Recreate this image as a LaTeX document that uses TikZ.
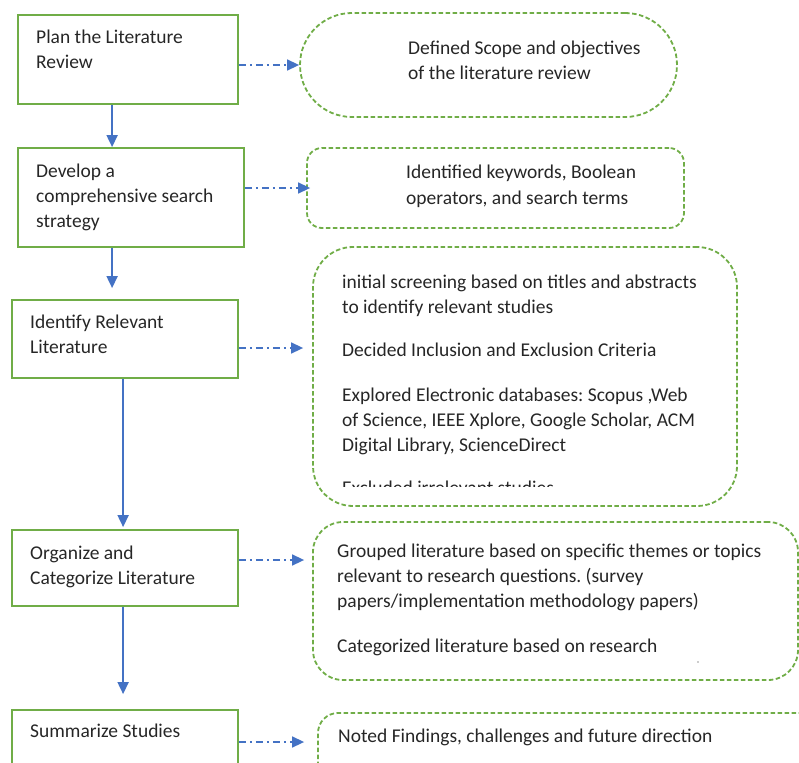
\documentclass[tikz,border=0pt]{standalone}
\usepackage{fontspec}
\setmainfont{Carlito}
\usepackage{xcolor}
\usepackage{tikz}
\usetikzlibrary{calc,arrows.meta,positioning}
\definecolor{boxGreen}{RGB}{112,173,71}
\definecolor{flowBlue}{RGB}{68,114,196}
\definecolor{txtGray}{RGB}{38,38,38}
\tikzset{
  stepbox/.style={draw=boxGreen, line width=1.8pt, inner sep=0pt, minimum width=226pt},
  outbox/.style={draw=boxGreen, line width=1.8pt, dash pattern=on 4.5pt off 2.5pt, inner sep=0pt},
  lbl/.style={anchor=base west, align=left, inner sep=0pt, text=txtGray, font=\fontsize{19.5}{25}\selectfont\frenchspacing},
  flow/.style={flowBlue, line width=1.8pt, -{Triangle[length=12pt,width=11pt]}},
  link/.style={flow, line width=1.5pt, dash pattern=on 7pt off 4pt on 2pt off 4pt},
}

\begin{document}
\begin{tikzpicture}[x=1pt,y=-1pt]
\clip (0,0) rectangle (799,762);
% steps on the left
\node[stepbox, minimum width=220pt, minimum height=89pt] (plan) at (128,59.5) {};
\node[stepbox, minimum height=99pt] (search) at (131,197.5) {};
\node[stepbox, minimum height=78pt] (identify) at (125,339) {};
\node[stepbox, minimum height=76pt] (organize) at (125,568) {};
\node[stepbox, minimum height=80pt] (summ) at (125,750) {};
% (base of a node with several lines = last line)
\node[lbl] (planT) at (36,69) {Plan the Literature\\Review};
\node[lbl] (searchT) at (36,227) {Develop a\\comprehensive search\\strategy};
\node[lbl] (identifyT) at (30,353) {Identify Relevant\\Literature};
\node[lbl] (organizeT) at (30,584) {Organize and\\Categorize Literature};
\node[lbl] (summT) at (30,737) {Summarize Studies};
% outcomes on the right
\node[outbox, rounded corners=52pt, minimum width=377pt, minimum height=104pt] (scope) at (488.5,65) {};
\node[outbox, rounded corners=15pt, minimum width=377pt, minimum height=80pt] (terms) at (495.5,188) {};
\node[outbox, rounded corners=40pt, minimum width=424pt, minimum height=259pt] (screen) at (525,376.5) {};
\node[outbox, rounded corners=30pt, minimum width=485pt, minimum height=158pt] (group) at (555.5,601) {};
\node[outbox, rounded corners=20pt, minimum width=512pt, minimum height=86pt] (notes) at (574,756) {};
\node[lbl] (scopeT) at (408,80) {Defined Scope and objectives\\of the literature review};
\node[lbl] (termsT) at (406,204) {Identified keywords, Boolean\\operators, and search terms};
\begin{scope}
\clip (313,247) rectangle (737,486);
\node[lbl] (screenT) at (342,494) {initial screening based on titles and abstracts\\to identify relevant studies\\[18pt]Decided Inclusion and Exclusion Criteria\\[20pt]Explored Electronic databases: Scopus ,Web\\of Science, IEEE Xplore, Google Scholar, ACM\\Digital Library, ScienceDirect\\[18pt]Excluded irrelevant studies};
\end{scope}
\node[lbl] (groupT) at (337,652) {Grouped literature based on specific themes or topics\\relevant to research questions. (survey\\papers/implementation methodology papers)\\[20pt]Categorized literature based on research};
\fill[txtGray] (698,662) circle (0.7pt);
\node[lbl] (notesT) at (338,742) {Noted Findings, challenges and future direction};
% main flow
\coordinate (v1) at ([xshift=95pt]plan.south west);
\coordinate (v2) at ([xshift=95pt]search.south west);
\coordinate (v3) at ([xshift=112pt]identify.south west);
\coordinate (v4) at ([xshift=112pt]organize.south west);
\draw[flow] (v1) -- (v1 |- search.north);
\draw[flow, shorten >=11pt] (v2) -- (v2 |- identify.north);
\draw[flow, shorten >=2pt] (v3) -- (v3 |- organize.north);
\draw[flow, shorten >=15pt] (v4) -- (v4 |- summ.north);
% links to outcomes
\coordinate (h3) at ([yshift=-9pt]identify.east);
\coordinate (h4) at ([yshift=8pt]organize.east);
\coordinate (h5) at ([yshift=8pt]summ.east);
\draw[link] (scope.west -| plan.east) -- (scope.west);
\draw[link, shorten >=-4pt] (terms.west -| search.east) -- (terms.west);
\draw[link, shorten >=9pt] (h3) -- (h3 -| screen.west);
\draw[link, shorten >=8pt] (h4) -- (h4 -| group.west);
\draw[link, shorten >=13pt] (h5) -- (h5 -| notes.west);
\end{tikzpicture}
\end{document}
